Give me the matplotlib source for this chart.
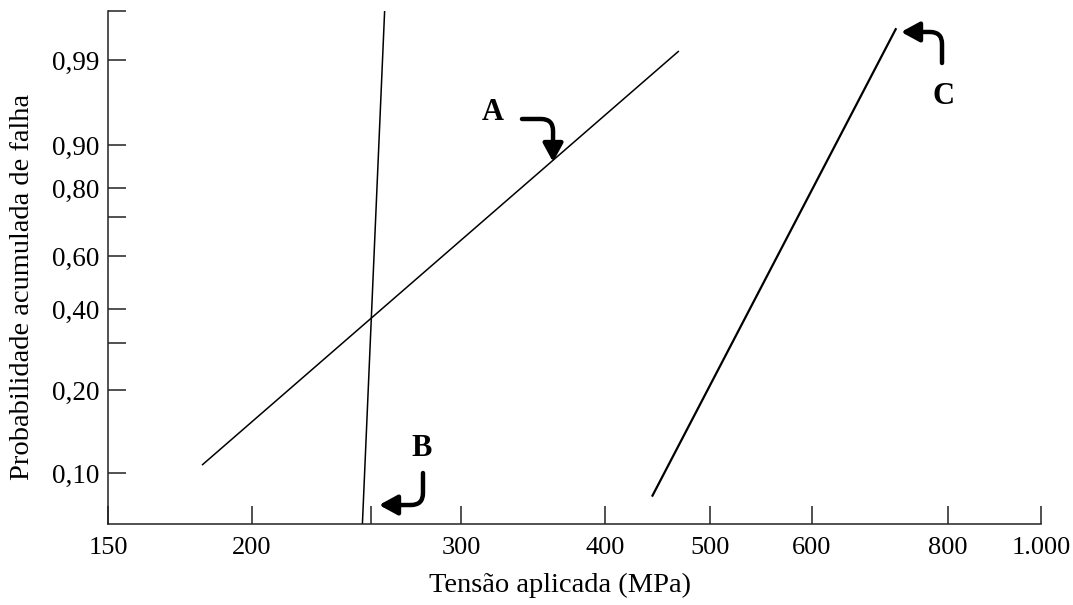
import numpy as np
import matplotlib
matplotlib.use('Agg')
import matplotlib.pyplot as plt
from matplotlib.patches import FancyArrowPatch

plt.rcParams['font.family'] = ['Liberation Serif', 'DejaVu Serif']

# Weibull paper: applied stress (MPa) vs cumulative probability of failure
stress_ticks = [150, 200, 250, 300, 400, 500, 600, 800, 1000]
stress_labels = ['150', '200', '', '300', '400', '500', '600', '800', '1.000']
prob_ticks = [0.10, 0.20, 0.30, 0.40, 0.60, 0.70, 0.80, 0.90, 0.99, 0.999]
prob_labels = ['0,10', '0,20', '', '0,40', '0,60', '', '0,80', '0,90', '0,99', '']

# fitted Weibull lines for the three materials
line_a_stress = [181, 468]
line_a_prob = [0.107, 0.993]
line_b_stress = [246, 257]
line_b_prob = [0.065, 0.999]
line_c_stress = [442, 717]
line_c_prob = [0.082, 0.9975]

# spacing of the printed paper (scale units along each axis)
x_grid_vals = np.log10([150, 200, 250, 300, 400, 500, 600, 800, 1000])
x_grid_pos = np.array([0, 144, 263, 353, 497, 602, 704, 840, 933])
y_grid_F = np.array([0.065, 0.10, 0.20, 0.30, 0.40, 0.60, 0.70, 0.80, 0.90, 0.99, 0.999])
y_grid_w = np.log(-np.log(1 - y_grid_F))
y_grid_pos = np.array([0, 51, 134, 181, 215, 268, 307, 336, 379, 464, 513])


def x_fwd(v):
    v = np.clip(np.asarray(v, dtype=float), 1e-6, None)
    return np.interp(np.log10(v), x_grid_vals, x_grid_pos)


def x_inv(p):
    return 10 ** np.interp(p, x_grid_pos, x_grid_vals)


def y_fwd(F):
    F = np.clip(np.asarray(F, dtype=float), 1e-9, 1 - 1e-9)
    return np.interp(np.log(-np.log(1 - F)), y_grid_w, y_grid_pos)


def y_inv(p):
    return 1 - np.exp(-np.exp(np.interp(p, y_grid_pos, y_grid_w)))


fig = plt.figure(figsize=(10.73, 6.05), dpi=100)
ax = fig.add_axes([108 / 1073, 81 / 605, 933 / 1073, 513 / 605])
ax.set_xscale('function', functions=(x_fwd, x_inv))
ax.set_yscale('function', functions=(y_fwd, y_inv))
ax.set_xlim(150, 1000)
ax.set_ylim(0.065, 0.999)

ax.plot(line_a_stress, line_a_prob, color='black', lw=1.1, solid_capstyle='butt')
ax.plot(line_b_stress, line_b_prob, color='black', lw=1.1, solid_capstyle='butt')
ax.plot(line_c_stress, line_c_prob, color='black', lw=1.6, solid_capstyle='butt')

ax.set_xticks(stress_ticks)
ax.set_xticklabels(stress_labels)
ax.set_yticks(prob_ticks)
ax.set_yticklabels(prob_labels)
ax.minorticks_off()
ax.tick_params(axis='both', direction='in', length=13, width=1.1, color='#222222')
ax.tick_params(axis='x', labelsize=19, pad=9)
ax.tick_params(axis='y', labelsize=19.5, pad=6)
for s in ['top', 'right']:
    ax.spines[s].set_visible(False)
for s in ['left', 'bottom']:
    ax.spines[s].set_linewidth(1.1)
    ax.spines[s].set_color('#222222')

ax.set_xlabel('Tensão aplicada (MPa)', fontsize=20.5, va='center')
ax.xaxis.set_label_coords(0.4845, -0.119)
ax.set_ylabel('Probabilidade acumulada de falha', fontsize=20.5, va='center')
ax.yaxis.set_label_coords(-0.092, 0.462)

# curly arrows naming each line
def tag(letter, text_xy, start, tip, angA, angB):
    ax.text(*text_xy, letter, transform=ax.transAxes, fontsize=22, fontweight='bold',
            ha='center', va='center')
    arr = FancyArrowPatch(start, tip, transform=ax.transAxes,
                          arrowstyle='-|>,head_length=0.55,head_width=0.3',
                          mutation_scale=20, lw=3.2, color='black',
                          connectionstyle=f'angle,angleA={angA},angleB={angB},rad=12',
                          shrinkA=0, shrinkB=0)
    ax.add_patch(arr)


tag('A', (0.4126, 0.8012), (0.4437, 0.7895), (0.4770, 0.7057), 0, 90)
tag('B', (0.3365, 0.1481), (0.3376, 0.0994), (0.2905, 0.0370), 90, 0)
tag('C', (0.8950, 0.8324), (0.8939, 0.8986), (0.8500, 0.9591), 90, 0)

fig.savefig('out.png', dpi=100)
